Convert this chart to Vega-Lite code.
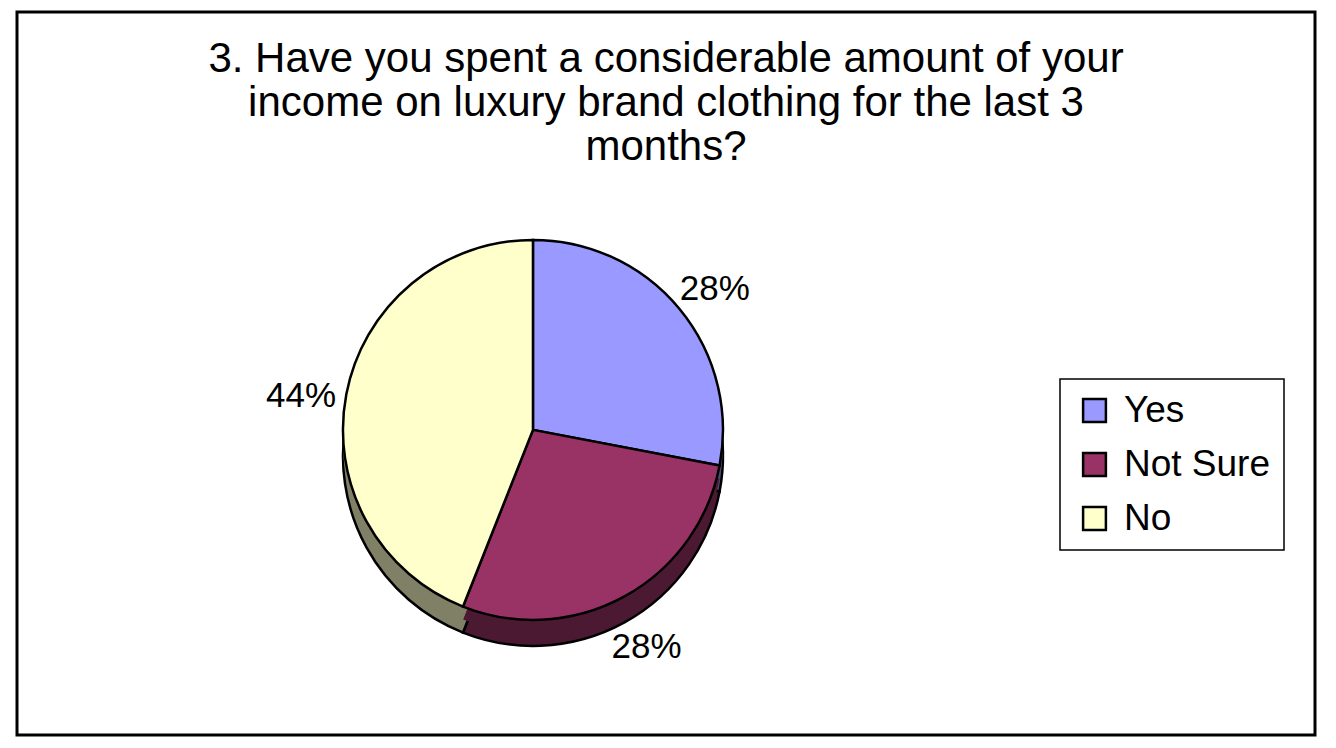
{
  "$schema": "https://vega.github.io/schema/vega-lite/v6.json",
  "width": 1298,
  "height": 723,
  "autosize": {"type": "none"},
  "padding": {"left": 17, "top": 12, "right": 21, "bottom": 13},
  "background": "white",
  "title": {
    "text": ["3. Have you spent a considerable amount of your", "income on luxury brand clothing for the last 3", "months?"],
    "anchor": "middle",
    "frame": "group",
    "offset": -160,
    "fontSize": 42,
    "font": "Liberation Sans",
    "fontWeight": "normal",
    "color": "black",
    "lineHeight": 44
  },
  "config": {
    "view": {"stroke": "black", "strokeWidth": 3},
    "font": "Liberation Sans",
    "legend": {
      "orient": "none",
      "legendX": 1043,
      "legendY": 367,
      "symbolType": "square",
      "symbolSize": 520,
      "symbolStrokeColor": "black",
      "symbolStrokeWidth": 2.5,
      "symbolOffset": 3,
      "labelFontSize": 37,
      "labelFont": "Liberation Sans",
      "labelColor": "black",
      "labelOffset": 11,
      "rowPadding": 16,
      "padding": 13,
      "strokeColor": "black",
      "strokeWidth": 1.5,
      "fillColor": "white"
    }
  },
  "data": {
    "values": [
      {"answer": "Yes", "share": 0.28, "order": 1},
      {"answer": "Not Sure", "share": 0.28, "order": 2},
      {"answer": "No", "share": 0.44, "order": 3}
    ]
  },
  "resolve": {"scale": {"color": "independent"}, "legend": {"color": "independent"}},
  "layer": [
    {
      "mark": {"type": "point", "opacity": 0},
      "encoding": {
        "x": {"field": "share", "type": "quantitative", "axis": null},
        "y": {"field": "order", "type": "quantitative", "axis": null}
      }
    },
    {
      "mark": {"type": "arc", "outerRadius": 190, "x": {"expr": "width*0.3975"}, "y": {"expr": "height*0.578+26"}, "stroke": "black", "strokeWidth": 2.5},
      "encoding": {
        "theta": {"field": "share", "type": "quantitative", "stack": true},
        "order": {"field": "order", "type": "quantitative"},
        "color": {"field": "answer", "type": "nominal", "scale": {"domain": ["Yes", "Not Sure", "No"], "range": ["#4D4D80", "#4C1933", "#808066"]}, "legend": null}
      }
    },
    {
      "mark": {"type": "arc", "outerRadius": 190, "x": {"expr": "width*0.3975"}, "y": {"expr": "height*0.578+13"}, "strokeWidth": 0},
      "encoding": {
        "theta": {"field": "share", "type": "quantitative", "stack": true},
        "order": {"field": "order", "type": "quantitative"},
        "color": {"field": "answer", "type": "nominal", "scale": {"domain": ["Yes", "Not Sure", "No"], "range": ["#4D4D80", "#4C1933", "#808066"]}, "legend": null}
      }
    },
    {
      "mark": {"type": "arc", "outerRadius": 190, "x": {"expr": "width*0.3975"}, "y": {"expr": "height*0.578"}, "stroke": "black", "strokeWidth": 2.5},
      "encoding": {
        "theta": {"field": "share", "type": "quantitative", "stack": true},
        "order": {"field": "order", "type": "quantitative"},
        "color": {"field": "answer", "type": "nominal", "title": null, "sort": ["Yes", "Not Sure", "No"], "scale": {"domain": ["Yes", "Not Sure", "No"], "range": ["#9999FF", "#993366", "#FFFFCC"]}}
      }
    },
    {
      "mark": {"type": "text", "radius": 236, "x": {"expr": "width*0.3975"}, "y": {"expr": "height*0.578+10"}, "fontSize": 35, "font": "Liberation Sans", "color": "black"},
      "encoding": {
        "theta": {"field": "share", "type": "quantitative", "stack": true},
        "order": {"field": "order", "type": "quantitative"},
        "text": {"field": "share", "type": "quantitative", "format": ".0%"}
      }
    }
  ]
}
